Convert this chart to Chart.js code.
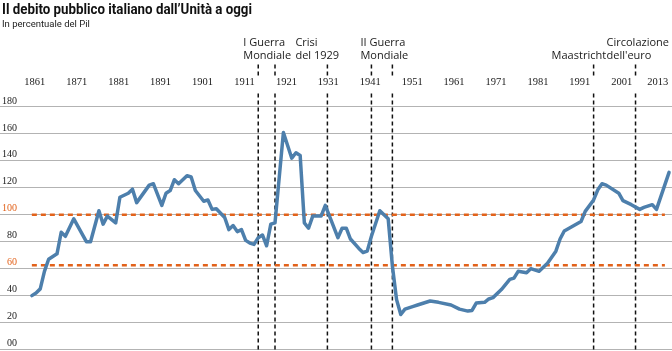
<!DOCTYPE html>
<html>
<head>
<meta charset="utf-8">
<script src="https://cdn.jsdelivr.net/npm/chart.js@4.4.1/dist/chart.umd.min.js"></script>
<style>
  html, body { margin: 0; padding: 0; background: #fff; }
  #wrap { width: 672px; height: 351px; }
</style>
</head>
<body>
<div id="wrap"><canvas id="debtChart"></canvas></div>
<script>
// debt / GDP (vertices only)
const years = [1861, 1862, 1863, 1864, 1865, 1866, 1867, 1868, 1869, 1871, 1874, 1875, 1877, 1878, 1879,
  1881, 1882, 1884, 1885, 1886, 1889, 1890, 1892, 1893, 1894, 1895, 1896, 1898, 1899, 1900,
  1902, 1903, 1904, 1905, 1907, 1908, 1909, 1910, 1911, 1912, 1913, 1914, 1915, 1916, 1917,
  1918, 1919, 1921, 1923, 1924, 1925, 1926, 1927, 1928, 1930, 1931, 1934, 1935, 1936, 1937,
  1939, 1940, 1941, 1942, 1944, 1946, 1947, 1948, 1949, 1950, 1952, 1953, 1956, 1958, 1961,
  1963, 1965, 1966, 1967, 1969, 1970, 1971, 1973, 1975, 1976, 1977, 1979, 1980, 1982, 1984,
  1986, 1987, 1988, 1990, 1992, 1993, 1995, 1996, 1997, 1998, 2001, 2002, 2004, 2006, 2007,
  2009, 2010, 2013];
const debt = [40, 42, 45, 58, 67, 69, 71, 87, 84, 97, 80, 80, 103, 93, 99,
  94, 113, 116, 119, 109, 122, 123, 107, 116, 118, 126, 123, 129, 128, 118,
  110, 111, 104, 104.5, 98, 89, 92, 87.5, 89, 81, 79, 78, 83, 85, 77,
  93, 94, 161, 142, 146, 144, 94, 90, 99, 99, 107, 83, 90, 90, 82,
  75, 72, 73, 84, 103, 97, 62, 37, 26, 30, 32, 33, 36, 35, 33,
  30, 28.5, 29, 34.5, 35, 37.5, 38.5, 44.5, 52, 53, 58, 57, 60, 58, 64,
  73, 82, 88, 91.5, 95, 102.5, 111, 118.5, 123, 122, 116, 110.5, 107.5, 104, 105.5,
  107.5, 104, 131.5];

const tickYears = [1861, 1871, 1881, 1891, 1901, 1911, 1921, 1931, 1941, 1951, 1961, 1971, 1981, 1991, 2001, 2013];
const orangeTicks = [100, 60];
const refLevels = [100, 62.5];
const refSpan = [1861, 2012];

const eventYears = [1915, 1919, 1931.5, 1942, 1947, 1995, 2005];
const notes = [
  { at: 1915, lines: ['I Guerra', 'Mondiale'] },
  { at: 1931.5, lines: ['Crisi', 'del 1929'] },
  { at: 1942, lines: ['II Guerra', 'Mondiale'] },
  { at: 1995, lines: ['Maastricht'] },
  { at: 2005, lines: ['Circolazione', "dell'euro"] }
];
const noteShift = [-15, -32, -11, -42, -29];

const titleText = "Il debito pubblico italiano dall\u2019Unit\u00e0 a oggi";
const subtitleText = 'In percentuale del Pil';

const BLUE = '#4d7fac';
const ORANGE = '#e2621b';
const serif = "'Liberation Serif', 'DejaVu Serif', serif";
const sans = "'Open Sans', 'Noto Sans', sans-serif";

const debtPoints = years.map((y, i) => ({ x: y, y: debt[i] }));

const refSets = refLevels.map(v => ({
  data: refSpan.map(yr => ({ x: yr, y: v })),
  borderColor: ORANGE,
  borderWidth: 2.5,
  borderDash: [5, 4],
  pointRadius: 0,
  fill: false
}));

// squeeze text to the narrow width used by the original headline font
function squeezed(ctx, text, font, x, y, width) {
  ctx.font = font;
  const w = ctx.measureText(text).width;
  ctx.save();
  ctx.translate(x, y);
  ctx.scale(Math.min(1, width / w), 1);
  ctx.fillText(text, 0, 0);
  ctx.restore();
}

const decorations = {
  id: 'decorations',
  beforeDatasetsDraw(chart) {
    const { ctx, chartArea, scales: { x } } = chart;
    ctx.save();
    ctx.strokeStyle = '#111';
    ctx.lineWidth = 1.5;
    ctx.setLineDash([4, 3]);
    eventYears.forEach(yr => {
      const px = x.getPixelForValue(yr);
      ctx.beginPath();
      ctx.moveTo(px, x.top - 11);
      ctx.lineTo(px, x.top + 2);
      ctx.moveTo(px, chartArea.top);
      ctx.lineTo(px, chart.height);
      ctx.stroke();
    });
    ctx.restore();
  },
  afterDraw(chart) {
    const { ctx, scales: { x } } = chart;
    ctx.save();
    ctx.textAlign = 'left';
    ctx.textBaseline = 'middle';
    ctx.fillStyle = '#111';
    squeezed(ctx, titleText, "bold 14.5px Roboto, 'Noto Sans', sans-serif", 2, 10, 250);
    ctx.fillStyle = '#222';
    squeezed(ctx, subtitleText, "9.5px Roboto, 'Noto Sans', sans-serif", 2, 25, 90);

    ctx.font = '11px ' + sans;
    ctx.fillStyle = '#1a1a1a';
    const rowGap = 12.5;
    const lastRow = x.top - 20;
    notes.forEach((n, i) => {
      const left = x.getPixelForValue(n.at) + noteShift[i];
      n.lines.forEach((t, j) => {
        ctx.fillText(t, left, lastRow - (n.lines.length - 1 - j) * rowGap);
      });
    });
    ctx.restore();
  }
};

const lastTick = tickYears[tickYears.length - 1];

new Chart(document.getElementById('debtChart'), {
  type: 'line',
  data: {
    datasets: [{
      data: debtPoints,
      borderColor: BLUE,
      borderWidth: 3.5,
      borderJoinStyle: 'round',
      borderCapStyle: 'round',
      pointRadius: 0,
      tension: 0,
      fill: false
    }, ...refSets]
  },
  options: {
    responsive: true,
    maintainAspectRatio: false,
    animation: false,
    layout: { padding: { top: 75.5, left: 0, right: 0, bottom: 0 }, autoPadding: false },
    plugins: {
      legend: { display: false },
      tooltip: { enabled: false },
      title: { display: false }
    },
    scales: {
      x: {
        type: 'linear',
        position: 'top',
        min: 1853.4,
        max: 2013.7,
        afterBuildTicks: axis => { axis.ticks = tickYears.map(v => ({ value: v })); },
        afterFit: axis => { axis.height = 18; axis.paddingLeft = 0; axis.paddingRight = 0; },
        grid: { display: false, drawTicks: false },
        border: { display: false },
        ticks: {
          autoSkip: false,
          maxRotation: 0,
          padding: 5,
          labelOffset: 3,
          color: '#1a1a1a',
          font: { family: serif, size: 10.5 },
          // keep the last year inside the canvas, as in the original
          callback: v => v === lastTick ? v + '\u00a0'.repeat(11) : String(v)
        }
      },
      y: {
        min: 0,
        max: 190,
        afterFit: axis => { axis.width = 0; axis.paddingTop = 0; axis.paddingBottom = 1.5; },
        grid: { color: '#b3b3b3', lineWidth: 1, drawTicks: false },
        border: { display: false },
        ticks: {
          stepSize: 20,
          includeBounds: false,
          mirror: true,
          crossAlign: 'far',
          align: 'end',
          padding: 2,
          labelOffset: -1,
          font: { family: serif, size: 10 },
          color: c => orangeTicks.includes(c.tick.value) ? ORANGE : '#1a1a1a',
          callback: v => v === 0 ? '00' : v
        }
      }
    }
  },
  plugins: [decorations]
});
</script>
</body>
</html>
